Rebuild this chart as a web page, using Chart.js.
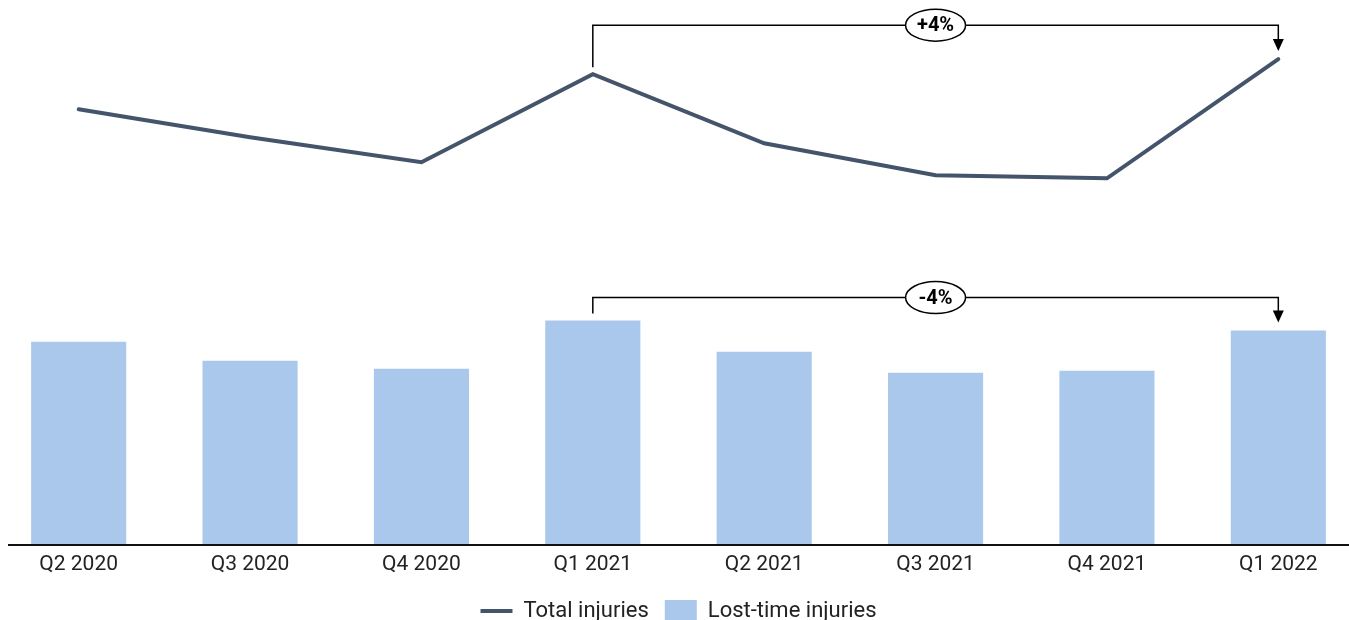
<!DOCTYPE html>
<html>
<head>
<meta charset="utf-8">
<script src="https://cdn.jsdelivr.net/npm/chart.js@4/dist/chart.umd.min.js"></script>
<style>
    html, body { margin: 0; padding: 0; background: #fff; overflow: hidden; }
    #wrap { width: 1349px; height: 620px; overflow: hidden; position: relative; }
    #injuriesChart { position: absolute; left: -7px; top: 0; }
</style>
</head>
<body>
<div id="wrap"><canvas id="injuriesChart" width="1371" height="632"></canvas></div>
<script>
const quarters = ['Q2 2020', 'Q3 2020', 'Q4 2020', 'Q1 2021', 'Q2 2021', 'Q3 2021', 'Q4 2021', 'Q1 2022'];
const totalInjuries = [351, 323, 298, 386, 317, 285, 282, 401];
const lostTimeInjuries = [202, 183, 175, 223, 192, 171, 173, 213];

// comparison brackets: from / to index, which series, height above first mark
const comparisons = [
    { series: 'total', from: 3, to: 7, rise: 49 },
    { series: 'lost', from: 3, to: 7, rise: 23 }
];

const LINE_COLOR = '#44546a';
const BAR_COLOR = '#a9c8ec';
const FONT = 'Roboto, "Noto Sans", sans-serif';

function pctLabel(a, b) {
    const p = Math.round((b / a - 1) * 100);
    return `${p > 0 ? '+' : ''}${p}%`;
}

const bracketPlugin = {
    id: 'bracketPlugin',
    afterDraw(chart) {
        const { ctx } = chart;
        const x = chart.scales.x;

        // axis line
        ctx.save();
        ctx.strokeStyle = '#111';
        ctx.lineWidth = 2;
        ctx.beginPath();
        ctx.moveTo(15, chart.chartArea.bottom + 1);
        ctx.lineTo(chart.width, chart.chartArea.bottom + 1);
        ctx.stroke();
        ctx.restore();

        comparisons.forEach(c => {
            const data = c.series === 'total' ? totalInjuries : lostTimeInjuries;
            const yScale = c.series === 'total' ? chart.scales.yLine : chart.scales.yBar;
            const x1 = x.getPixelForValue(c.from);
            const x2 = x.getPixelForValue(c.to);
            const y1 = yScale.getPixelForValue(data[c.from]);
            const y2 = yScale.getPixelForValue(data[c.to]);
            const top = y1 - c.rise;
            const tipY = y2 - 8;

            ctx.save();
            ctx.strokeStyle = '#000';
            ctx.fillStyle = '#000';
            ctx.lineWidth = 1.5;
            ctx.beginPath();
            ctx.moveTo(x1, y1 - 7);
            ctx.lineTo(x1, top);
            ctx.lineTo(x2, top);
            ctx.lineTo(x2, tipY - 10);
            ctx.stroke();

            ctx.beginPath();
            ctx.moveTo(x2 - 5.5, tipY - 12);
            ctx.lineTo(x2 + 5.5, tipY - 12);
            ctx.lineTo(x2, tipY);
            ctx.closePath();
            ctx.fill();

            const mx = (x1 + x2) / 2;
            ctx.beginPath();
            ctx.ellipse(mx, top, 30, 16, 0, 0, Math.PI * 2);
            ctx.fillStyle = '#fff';
            ctx.fill();
            ctx.stroke();

            ctx.fillStyle = '#000';
            ctx.font = `bold 20px ${FONT}`;
            ctx.textAlign = 'center';
            ctx.textBaseline = 'middle';
            ctx.fillText(pctLabel(data[c.from], data[c.to]), mx, top + 1);
            ctx.restore();
        });
    }
};

new Chart(document.getElementById('injuriesChart').getContext('2d'), {
    data: {
        labels: quarters,
        datasets: [
            {
                type: 'line',
                label: 'Total injuries',
                data: totalInjuries,
                yAxisID: 'yLine',
                borderColor: LINE_COLOR,
                backgroundColor: LINE_COLOR,
                borderWidth: 4,
                borderCapStyle: 'round',
                borderJoinStyle: 'miter',
                pointRadius: 0,
                pointStyle: 'line',
                tension: 0,
                clip: false,
                order: 1
            },
            {
                type: 'bar',
                label: 'Lost-time injuries',
                data: lostTimeInjuries,
                yAxisID: 'yBar',
                backgroundColor: BAR_COLOR,
                borderWidth: 0,
                pointStyle: 'rect',
                categoryPercentage: 1,
                barPercentage: 0.555,
                order: 2
            }
        ]
    },
    options: {
        responsive: false,
        animation: false,
        layout: { padding: 0 },
        plugins: {
            legend: {
                position: 'bottom',
                labels: {
                    usePointStyle: true,
                    pointStyleWidth: 32,
                    padding: 16,
                    color: '#222',
                    font: { family: FONT, size: 22 }
                }
            },
            tooltip: { enabled: false }
        },
        scales: {
            x: {
                grid: { display: false, drawTicks: false },
                border: { display: false },
                ticks: {
                    color: '#222',
                    padding: 8,
                    maxRotation: 0,
                    font: { family: FONT, size: 21 }
                },
                afterFit: (scale) => { scale.height = 40; }
            },
            yLine: { display: false, min: -83, max: 460 },
            yBar: { display: false, min: 0, max: 543 }
        }
    },
    plugins: [bracketPlugin]
});
</script>
</body>
</html>
